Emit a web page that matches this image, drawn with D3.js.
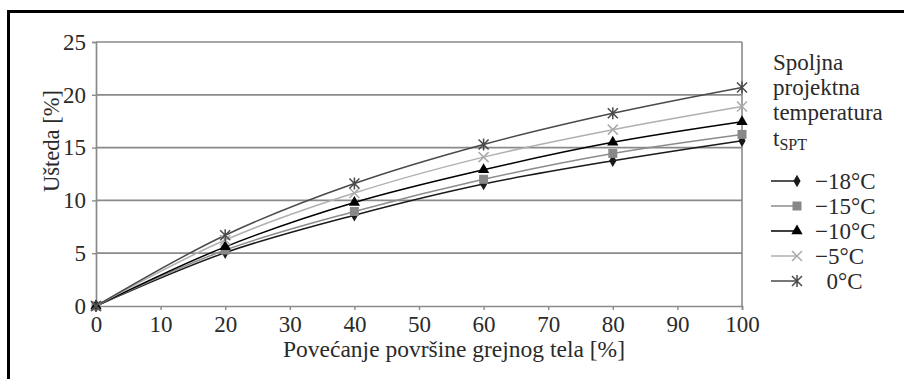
<!DOCTYPE html>
<html><head><meta charset="utf-8">
<script src="https://cdn.jsdelivr.net/npm/d3@7"></script>
<style>
html,body{margin:0;padding:0;background:#fff;}
svg text{font-family:"Liberation Serif","Times New Roman",Tinos,"DejaVu Serif",serif !important;}
</style></head>
<body>
<svg id="c" width="904" height="379"></svg>
<script>
const xValues = [0, 20, 40, 60, 80, 100];
const seriesNames = ["\u221218\u00B0C", "\u221215\u00B0C", "\u221210\u00B0C", "\u22125\u00B0C", "\u20020\u00B0C"];
const s18 = [0, 5.05, 8.6, 11.55, 13.75, 15.65];
const s15 = [0, 5.3, 8.95, 12.0, 14.45, 16.25];
const s10 = [0, 5.6, 9.8, 12.9, 15.5, 17.45];
const s5  = [0, 6.25, 10.7, 14.1, 16.7, 18.9];
const s0  = [0, 6.7, 11.6, 15.3, 18.25, 20.7];
const xTicks = [0,10,20,30,40,50,60,70,80,90,100];
const yTicks = [0,5,10,15,20,25];
const legendTitle = ["Spoljna", "projektna", "temperatura"];

const series = [
  {name: seriesNames[0], values: s18, color: "#1a1a1a", mcolor: "#1a1a1a", marker: "diamond"},
  {name: seriesNames[1], values: s15, color: "#8c8c8c", mcolor: "#888", marker: "square"},
  {name: seriesNames[2], values: s10, color: "#000", mcolor: "#000", marker: "triangle"},
  {name: seriesNames[3], values: s5,  color: "#b0b0b0", mcolor: "#aaa", marker: "x"},
  {name: seriesNames[4], values: s0,  color: "#4a4a4a", mcolor: "#4a4a4a", marker: "star"}
];

const FONT = "'Liberation Serif','Times New Roman',Tinos,'DejaVu Serif',serif";
const TXT = "#2a2a2a";
const FS = 23;
const svg = d3.select("#c").attr("font-family",FONT);
svg.append("path").attr("d","M8.5,400 L8.5,11.5 L910,11.5").attr("fill","none").attr("stroke","#000").attr("stroke-width",3);

const x = d3.scaleLinear().domain([0,100]).range([96,742]);
const y = d3.scaleLinear().domain([0,25]).range([306,42]);
const gridC = "#8a8a8a";

svg.append("g").selectAll("line").data(yTicks.filter(d=>d>0)).join("line")
  .attr("x1",x(0)).attr("x2",x(100)).attr("y1",d=>y(d)).attr("y2",d=>y(d))
  .attr("stroke",gridC).attr("stroke-width",1.7);
svg.append("line").attr("x1",x(100)).attr("x2",x(100)).attr("y1",y(25)).attr("y2",y(0)).attr("stroke",gridC).attr("stroke-width",1.6);

const xAxis = d3.axisBottom(x).tickValues(xTicks).tickSize(4).tickPadding(6).tickFormat(d3.format("d"));
const gx = svg.append("g").attr("transform",`translate(0,${y(0)})`).call(xAxis);
const yAxis = d3.axisLeft(y).tickValues(yTicks).tickSize(4).tickPadding(6).tickFormat(d3.format("d"));
const gy = svg.append("g").attr("transform",`translate(${x(0)},0)`).call(yAxis);
[gx,gy].forEach(g=>{
  g.attr("font-family",FONT);
  g.select(".domain").attr("stroke",gridC).attr("stroke-width",1.7);
  g.selectAll(".tick line").attr("stroke",gridC).attr("stroke-width",1.4);
  g.selectAll("text").attr("font-family",FONT).attr("font-size",FS).attr("fill",TXT);
});
gx.selectAll("text").attr("dy","0.71em");

svg.append("text").attr("x",454).attr("y",357).attr("text-anchor","middle")
  .attr("font-size",FS).attr("fill",TXT).attr("textLength",342).attr("lengthAdjust","spacingAndGlyphs")
  .text("Povećanje površine grejnog tela [%]");
svg.append("text").attr("transform","translate(59,141) rotate(-90)").attr("text-anchor","middle")
  .attr("font-size",FS+1).attr("fill",TXT).attr("textLength",102).attr("lengthAdjust","spacingAndGlyphs")
  .text("Ušteda [%]");

function drawMarker(g, type, cx, cy, color){
  if(type==="diamond"){
    g.append("path").attr("d",d3.symbol(d3.symbolDiamond,45)()).attr("transform",`translate(${cx},${cy})`).attr("fill",color);
  } else if(type==="square"){
    g.append("rect").attr("x",cx-4.5).attr("y",cy-4.5).attr("width",9).attr("height",9).attr("fill",color);
  } else if(type==="triangle"){
    g.append("path").attr("d",d3.symbol(d3.symbolTriangle,55)()).attr("transform",`translate(${cx},${cy})`).attr("fill",color);
  } else if(type==="x"){
    g.append("path").attr("d",`M${cx-5},${cy-5}L${cx+5},${cy+5}M${cx-5},${cy+5}L${cx+5},${cy-5}`).attr("stroke",color).attr("stroke-width",1.5);
  } else if(type==="star"){
    g.append("path").attr("d",`M${cx-5},${cy-5}L${cx+5},${cy+5}M${cx-5},${cy+5}L${cx+5},${cy-5}M${cx},${cy-6}L${cx},${cy+6}`).attr("stroke",color).attr("stroke-width",1.5);
  }
}

const line = d3.line().x(d=>x(d[0])).y(d=>y(d[1])).curve(d3.curveCatmullRom.alpha(0.5));
series.forEach(s=>{
  const pts = xValues.map((v,i)=>[v,s.values[i]]);
  svg.append("path").datum(pts).attr("d",line).attr("fill","none").attr("stroke",s.color).attr("stroke-width",1.5);
});
series.forEach(s=>{
  const g = svg.append("g");
  xValues.forEach((v,i)=>drawMarker(g, s.marker, x(v), y(s.values[i]), s.mcolor));
});

const lg = svg.append("g");
const titleY = [70, 95, 120];
legendTitle.forEach((t,i)=>lg.append("text").attr("x",773).attr("y",titleY[i]).attr("font-size",FS).attr("fill",TXT).text(t));
const tt = lg.append("text").attr("x",773).attr("y",146).attr("font-size",FS).attr("fill",TXT);
tt.append("tspan").text("t");
tt.append("tspan").attr("font-size",16).attr("dy",4).text("SPT");
series.forEach((s,i)=>{
  const cy = 181 + i*25;
  lg.append("line").attr("x1",771).attr("x2",797).attr("y1",cy).attr("y2",cy).attr("stroke",s.color).attr("stroke-width",1.5);
  drawMarker(lg, s.marker, 797, cy, s.mcolor);
  lg.append("text").attr("x",815).attr("y",cy).attr("dy","0.35em").attr("font-size",FS).attr("fill",TXT).text(s.name);
});
</script>
</body></html>
